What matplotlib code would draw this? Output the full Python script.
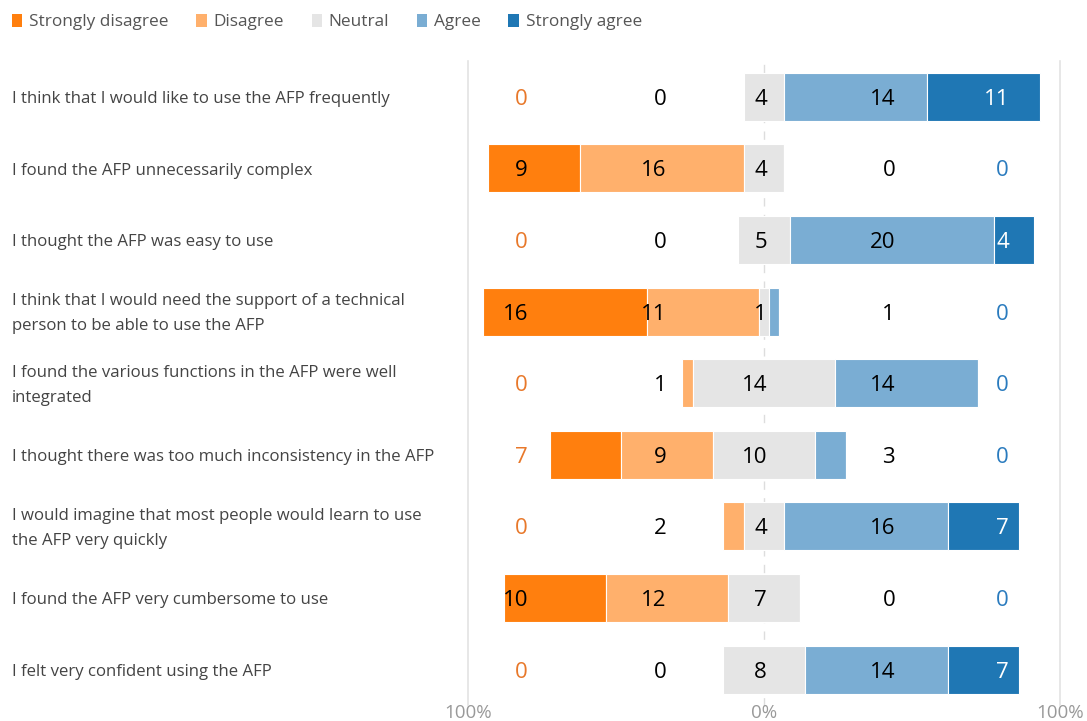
import numpy as np
import matplotlib; matplotlib.use("Agg")
import matplotlib.pyplot as plt
from matplotlib.patches import Patch
from matplotlib.transforms import blended_transform_factory

plt.rcParams.update({"font.family": ["Open Sans", "DejaVu Sans"]})

questions = [
    "I think that I would like to use the AFP frequently",
    "I found the AFP unnecessarily complex",
    "I thought the AFP was easy to use",
    "I think that I would need the support of a technical\nperson to be able to use the AFP",
    "I found the various functions in the AFP were well\nintegrated",
    "I thought there was too much inconsistency in the AFP",
    "I would imagine that most people would learn to use\nthe AFP very quickly",
    "I found the AFP very cumbersome to use",
    "I felt very confident using the AFP",
]
levels = ["Strongly disagree", "Disagree", "Neutral", "Agree", "Strongly agree"]
strongly_disagree = [0, 9, 0, 16, 0, 7, 0, 10, 0]
disagree          = [0, 16, 0, 11, 1, 9, 2, 12, 0]
neutral           = [4, 4, 5, 1, 14, 10, 4, 7, 8]
agree             = [14, 0, 20, 1, 14, 3, 16, 0, 14]
strongly_agree    = [11, 0, 4, 0, 0, 0, 7, 0, 7]

colors = ["#FF7F0E", "#FFB06C", "#E5E5E5", "#7AADD3", "#1F77B4"]
outside_col = ["#E8782A", "black", "black", "black", "#2A7BBE"]
inside_col = ["black", "black", "black", "black", "white"]
label_x = [-79.7, -32.8, 1.0, 44.3, 82.8]   # right-aligned label anchors (%)

counts = np.array([strongly_disagree, disagree, neutral, agree, strongly_agree], float)
pct = counts / counts.sum(axis=0) * 100
n = len(questions)
y = np.arange(n)

# segment starts: neutral centred on 0
starts = np.zeros_like(pct)
starts[2] = -pct[2] / 2
starts[1] = starts[2] - pct[1]
starts[0] = starts[1] - pct[0]
starts[3] = pct[2] / 2
starts[4] = starts[3] + pct[3]

fig = plt.figure(figsize=(10.87, 7.21), dpi=100)
ax = fig.add_axes([468/1087, 15.5/721, 592/1087, 644.5/721])
ax.axvline(0, color="#DDDDDD", lw=1, ls=(0, (6, 6)), zorder=0)
for k in range(5):
    ax.barh(y, pct[k], left=starts[k], height=0.67, color=colors[k],
            edgecolor="white", linewidth=0.8, zorder=2)
    for i in range(n):
        lx = label_x[k]
        inside = pct[k, i] > 0 and starts[k, i] <= lx <= starts[k, i] + pct[k, i]
        ax.text(lx, y[i], f"{int(counts[k, i])}", ha="right", va="center_baseline",
                fontsize=16, color=inside_col[k] if inside else outside_col[k], zorder=3)

ax.set_xlim(-100, 100)
ax.set_ylim(n - 0.5, -0.5)
ax.set_yticks([])
ax.set_xticks([-100, 0, 100])
ax.set_xticklabels(["100%", "0%", "100%"], color="#999999", fontsize=13.5)
ax.tick_params(axis="x", length=0, pad=-1)
for s in ["top", "bottom"]:
    ax.spines[s].set_visible(False)
for s in ["left", "right"]:
    ax.spines[s].set_color("#E3E3E3")
    ax.spines[s].set_linewidth(1.2)

tr = blended_transform_factory(fig.transFigure, ax.transData)
for i, q in enumerate(questions):
    ax.text(12/1087, y[i] + 0.03, q, transform=tr, ha="left", va="center", fontsize=12.1,
            color="#444444", linespacing=1.75)

handles = [Patch(facecolor=c, edgecolor="none", label=l) for c, l in zip(colors, levels)]
fig.legend(handles=handles, loc="center left", bbox_to_anchor=(12/1087, 1 - 22/721), ncol=5,
           frameon=False, fontsize=12.4, handlelength=0.6, handleheight=0.8,
           handletextpad=0.4, columnspacing=1.6, labelcolor="#555555",
           borderaxespad=0, borderpad=0)

fig.savefig("out.png", dpi=100)
